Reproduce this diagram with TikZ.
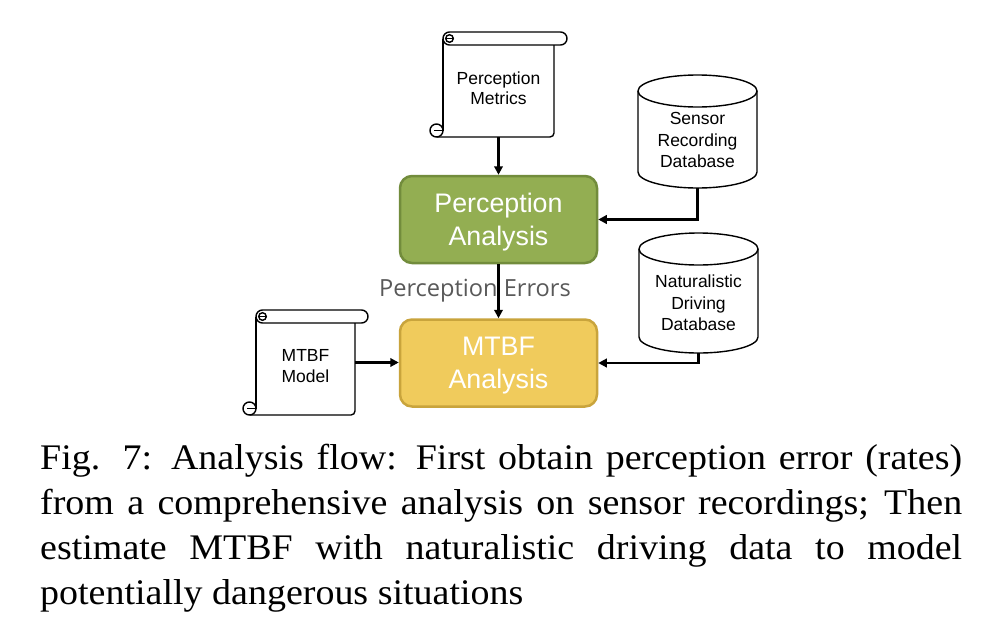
\documentclass[tikz,border=0pt]{standalone}
\usepackage{fontspec}
\setmainfont{Liberation Serif}
\newfontfamily\diagfont{Liberation Sans}
\newfontfamily\errfont{Open Sans}
\newfontfamily\capfont[FakeStretch=1.055]{Liberation Serif}
\usetikzlibrary{arrows.meta,calc}
\definecolor{pagreen}{HTML}{93AE52}
\definecolor{pagreenb}{HTML}{728C3C}
\definecolor{mayellow}{HTML}{F0CB5C}
\definecolor{mayellowb}{HTML}{C9A43C}
\definecolor{errgray}{HTML}{595959}
\newcommand\scrollshape[4]{%
  \draw[shapeline, rounded corners=6.5pt] (#1,#3) rectangle ({#2+13},{#3+13});
  \draw[shapeline] ({#1+6.5},{#3+6.5}) circle (3.8pt);
  \draw[shapeline] ({#1+3},{#3+6.5}) -- ({#1+11},{#3+6.5});
  \draw[shapeline] (#1,{#3+6.5}) -- (#1,{#4-6.5});
  \draw[shapeline] (#2,{#3+13}) -- (#2,{#4-4}) arc[start angle=0,end angle=-90,radius=4pt] -- ({#1-6.5},#4);
  \draw[shapeline] ({#1-6.5},{#4-6.5}) circle (6.5pt);
  \draw[shapeline] ({#1-9},{#4-6.5}) -- (#1,{#4-6.5});
}
\newcommand\cylshape[4]{%
  \draw[shapeline] ({#1-#4},{#2+16}) -- ({#1-#4},{#3-16}) arc[start angle=180,end angle=360,x radius=#4pt,y radius=16pt] -- ({#1+#4},{#2+16});
  \draw[shapeline] (#1,{#2+16}) ellipse[x radius=#4pt, y radius=16pt];
}
\begin{document}
\begin{tikzpicture}[x=1pt,y=-1pt,
  shapeline/.style={line width=1.4pt, black},
  holder/.style={rectangle, draw=none, inner sep=0pt, outer sep=0pt},
  smalltext/.style={inner sep=0pt, align=center, font=\diagfont\fontsize{17.5}{20.5}\selectfont},
  bigbox/.style={rectangle, rounded corners=12pt, line width=2.5pt, minimum width=197pt, minimum height=87pt, align=center, text=white, inner sep=0pt, text depth=0pt, font=\diagfont\fontsize{26.8}{33}\selectfont},
  conn/.style={line width=2.3pt, -{Triangle[length=8.5pt,width=8.5pt]}}
]
\useasboundingbox (0,0) rectangle (988,627);
\fill[white] (0,0) rectangle (988,627);

% main boxes
\node[bigbox, fill=pagreen, draw=pagreenb] (pa) at (498.5,219.5) {Perception\\Analysis};
\node[bigbox, fill=mayellow, draw=mayellowb] (ma) at (498.5,363) {MTBF\\Analysis};

% perception metrics scroll
\scrollshape{443}{554}{32}{137}
\node[holder, minimum width=111pt, minimum height=105pt] (pm) at (498.5,84.5) {};
\node[smalltext, font=\diagfont\fontsize{17.5}{20}\selectfont] (pmtext) at (498.5,88.7) {Perception\\Metrics};

% MTBF model scroll
\scrollshape{256}{355}{310}{415}
\node[holder, minimum width=99pt, minimum height=105pt] (mm) at (305.5,362.5) {};
\node[smalltext, font=\diagfont\fontsize{17.5}{21}\selectfont] (mmtext) at (305.5,366) {MTBF\\Model};

% databases
\cylshape{697.5}{75}{188}{59.5}
\node[holder, minimum width=119pt, minimum height=113pt] (sdb) at (697.5,131.5) {};
\node[smalltext, font=\diagfont\fontsize{17.5}{21.5}\selectfont] (sdbtext) at (697.5,140.3) {Sensor\\Recording\\Database};

\cylshape{698.5}{233}{353}{59.5}
\node[holder, minimum width=119pt, minimum height=120pt] (ndb) at (698.5,293) {};
\node[smalltext, font=\diagfont\fontsize{17.5}{21.5}\selectfont] (ndbtext) at (698.5,303) {Naturalistic\\Driving\\Database};

% label
\node[anchor=base, inner sep=0pt, text=errgray, font=\errfont\fontsize{23.6}{27}\selectfont] (pelabel) at (475,296) {Perception Errors};

% connectors
\draw[conn] (pm.south) -- (pa.north);
\draw[conn] (pa.south) -- (ma.north);
\draw[conn] (sdb.south) |- (pa.east);
\draw[conn] (ndb.south) |- (ma.east);
\draw[conn] (mm.east) -- (mm.east -| ma.west);

% caption
\node[anchor=base west, inner sep=0pt] (caption) at (40,469.5) {\parbox[t]{922pt}{\capfont\fontsize{36}{45}\selectfont\baselineskip=45pt\lineskiplimit=-20pt
\hbox to 922pt{Fig. 7: Analysis flow: First obtain perception error (rates)}
\hbox to 922pt{from a comprehensive analysis on sensor recordings; Then}
\hbox to 922pt{estimate MTBF with naturalistic driving data to model}
\hbox{potentially dangerous situations}}};
\end{tikzpicture}
\end{document}
